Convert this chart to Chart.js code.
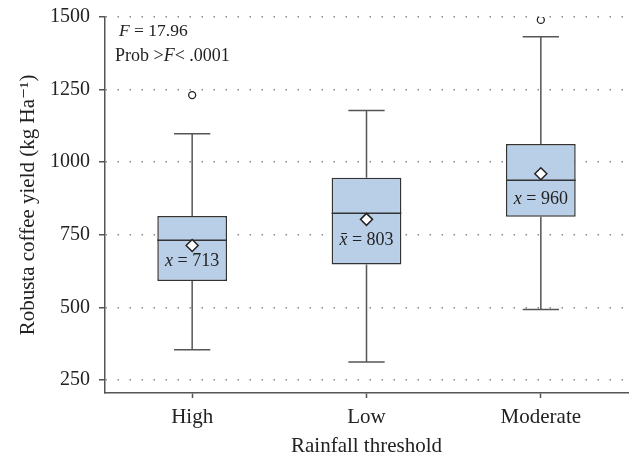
<!DOCTYPE html>
<html>
<head>
<meta charset="utf-8">
<script src="https://cdn.jsdelivr.net/npm/chart.js@4.4.1/dist/chart.umd.min.js"></script>
<style>
  html, body { margin: 0; padding: 0; background: #fff; }
</style>
</head>
<body>
<canvas id="chart" width="630" height="458"></canvas>
<script>
// box plot summary per rainfall threshold (kg/ha)
const categories = ['High', 'Low', 'Moderate'];
const whiskerLow = [354, 312, 493];
const q1 = [591, 648, 812];
const median = [731, 824, 938];
const q3 = [815, 946, 1063];
const whiskerHigh = [1098, 1178, 1432];
const means = [713, 803, 960];
const meanSymbols = ['x', 'x\u0304', 'x'];
const outliers = [1231, null, 1490];
const yTicks = [250, 500, 750, 1000, 1250, 1500];

const SERIF = "'Liberation Serif', 'DejaVu Serif', serif";
const INK = '#222';
const AXIS = '#555';

// draws text made of [string, italic] pieces starting at x
function drawRich(ctx, parts, x, y, size, align) {
  const widths = parts.map(([t, it]) => {
    ctx.font = (it ? 'italic ' : '') + size + 'px ' + SERIF;
    return ctx.measureText(t).width;
  });
  const total = widths.reduce((a, b) => a + b, 0);
  let cx = align === 'center' ? x - total / 2 : x;
  parts.forEach(([t, it], i) => {
    ctx.font = (it ? 'italic ' : '') + size + 'px ' + SERIF;
    ctx.fillText(t, cx, y);
    cx += widths[i];
  });
}

// keep the plot area fixed: no extra room for edge labels
function noEdgePadding(s) {
  s.paddingTop = 0;
  s.paddingBottom = 0;
  s.paddingLeft = 0;
  s.paddingRight = 0;
}

const boxParts = {
  id: 'boxParts',
  beforeDatasetsDraw(chart) {
    const { ctx, scales: { x, y } } = chart;
    const bars = chart.getDatasetMeta(0).data;
    ctx.save();
    ctx.strokeStyle = AXIS;
    ctx.lineWidth = 1.5;
    categories.forEach((c, i) => {
      const px = x.getPixelForValue(i);
      const cap = bars[i].width * 0.26;
      ctx.beginPath();
      ctx.moveTo(px, y.getPixelForValue(q3[i]));
      ctx.lineTo(px, y.getPixelForValue(whiskerHigh[i]));
      ctx.moveTo(px, y.getPixelForValue(q1[i]));
      ctx.lineTo(px, y.getPixelForValue(whiskerLow[i]));
      ctx.moveTo(px - cap, y.getPixelForValue(whiskerHigh[i]));
      ctx.lineTo(px + cap, y.getPixelForValue(whiskerHigh[i]));
      ctx.moveTo(px - cap, y.getPixelForValue(whiskerLow[i]));
      ctx.lineTo(px + cap, y.getPixelForValue(whiskerLow[i]));
      ctx.stroke();
    });
    ctx.restore();
  },
  afterDatasetDraw(chart, args) {
    if (args.index !== 0) return;
    const { ctx, scales: { x, y } } = chart;
    const bars = chart.getDatasetMeta(0).data;
    ctx.save();
    ctx.strokeStyle = '#333';
    ctx.lineWidth = 1.5;
    categories.forEach((c, i) => {
      const px = x.getPixelForValue(i);
      const half = bars[i].width / 2;
      const my = y.getPixelForValue(median[i]);
      ctx.beginPath();
      ctx.moveTo(px - half, my);
      ctx.lineTo(px + half, my);
      ctx.stroke();
      // mean label sits between median and lower quartile
      const ly = (my + y.getPixelForValue(q1[i])) / 2 + 1;
      ctx.fillStyle = INK;
      ctx.textBaseline = 'middle';
      drawRich(ctx, [[meanSymbols[i], true], [' = ' + means[i], false]], px, ly, 18, 'center');
    });
    ctx.restore();
  },
  afterDraw(chart) {
    const { ctx } = chart;
    ctx.save();
    ctx.fillStyle = INK;
    ctx.textBaseline = 'alphabetic';
    drawRich(ctx, [['F', true], [' = 17.96', false]], 119, 36, 17.5);
    drawRich(ctx, [['Prob >', false], ['F', true], ['< .0001', false]], 115, 61, 18);
    ctx.restore();
  }
};

new Chart(document.getElementById('chart'), {
  type: 'bar',
  data: {
    labels: categories,
    datasets: [
      {
        label: 'IQR',
        data: q1.map((v, i) => [v, q3[i]]),
        backgroundColor: '#b9cfe8',
        borderColor: '#333',
        borderWidth: 1.5,
        borderSkipped: false,
        barPercentage: 0.4,
        categoryPercentage: 1,
        order: 2
      },
      {
        label: 'Mean',
        type: 'line',
        data: means,
        showLine: false,
        pointStyle: 'rectRot',
        pointRadius: 6,
        pointBackgroundColor: '#fff',
        pointBorderColor: INK,
        pointBorderWidth: 1.5,
        order: 1
      },
      {
        label: 'Outliers',
        type: 'line',
        data: outliers,
        showLine: false,
        pointStyle: 'circle',
        pointRadius: 3.5,
        pointBackgroundColor: '#fff',
        pointBorderColor: INK,
        pointBorderWidth: 1.3,
        order: 0
      }
    ]
  },
  options: {
    responsive: false,
    animation: false,
    devicePixelRatio: 1,
    layout: { autoPadding: false, padding: { top: 17, right: 2, left: 0, bottom: 0 } },
    plugins: { legend: { display: false }, tooltip: { enabled: false } },
    scales: {
      x: {
        offset: true,
        grid: { offset: false, drawOnChartArea: false, tickLength: 5, tickColor: AXIS, tickWidth: 1.5 },
        border: { color: AXIS, width: 1.5 },
        ticks: { color: INK, font: { family: SERIF, size: 21 }, padding: 7 },
        title: {
          display: true,
          text: 'Rainfall threshold',
          color: INK,
          font: { family: SERIF, size: 21 },
          padding: { top: 4, bottom: -1.5 }
        },
        afterFit: s => { s.height = 65; noEdgePadding(s); }
      },
      y: {
        min: 205,
        max: 1500,
        afterBuildTicks: s => { s.ticks = yTicks.map(v => ({ value: v })); },
        grid: { color: '#8a8a8a', lineWidth: 1.5, tickLength: 6, tickColor: AXIS, tickWidth: 1.5 },
        border: { color: AXIS, width: 1.5, dash: [1.5, 10.5] },
        ticks: {
          color: INK,
          font: { family: SERIF, size: 20 },
          padding: 9,
          callback: v => String(v)
        },
        title: {
          display: true,
          text: 'Robusta coffee yield (kg Ha\u207B\u00B9)',
          color: INK,
          font: { family: SERIF, size: 21 },
          padding: { top: 16, bottom: 0 }
        },
        afterFit: s => { s.width = 105; noEdgePadding(s); }
      }
    }
  },
  plugins: [boxParts]
});
</script>
</body>
</html>
